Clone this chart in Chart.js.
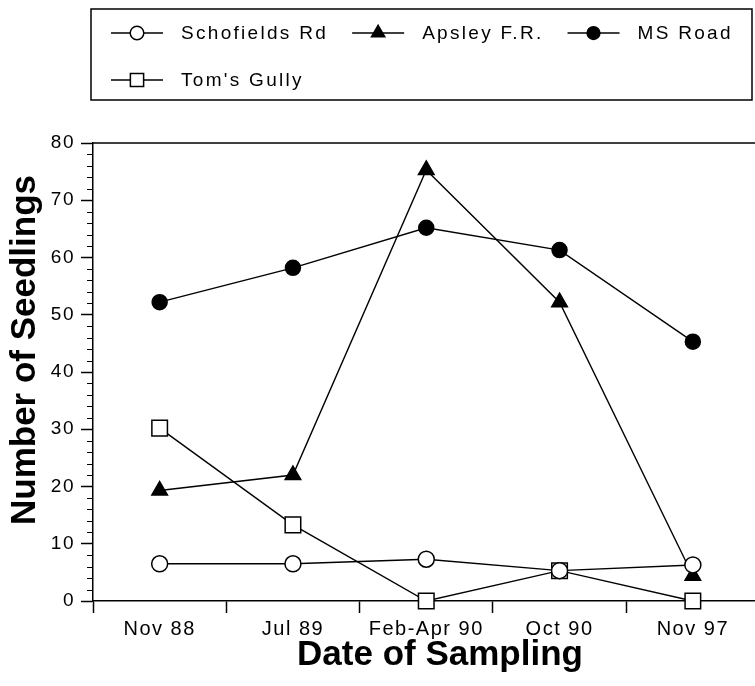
<!DOCTYPE html>
<html>
<head>
<meta charset="utf-8">
<title>Number of Seedlings by Date of Sampling</title>
<script src="https://cdn.jsdelivr.net/npm/chart.js"></script>
<style>
  html, body { margin: 0; padding: 0; background: #fff; overflow: hidden; }
  canvas { display: block; }
</style>
</head>
<body>
<!-- the plot frame runs past the right edge in the original, so the canvas is a bit wider than the page -->
<canvas id="seedlings" width="772" height="686"></canvas>
<script>
// sampling dates (x categories)
var dates = ['Nov 88', 'Jul 89', 'Feb-Apr 90', 'Oct 90', 'Nov 97'];

// seedling counts per site
var schofieldsRd = [6.5, 6.5, 7.3, 5.3, 6.3];
var apsleyFR     = [19.3, 22, 75.3, 52.2, 4.4];
var msRoad       = [52.2, 58.2, 65.2, 61.3, 45.3];
var tomsGully    = [30.2, 13.3, 0, 5.3, 0];

// y axis
var yMin = 0;
var yMax = 80;
var yMajor = 10;
var yMinor = 2;

var FONT = '"Liberation Sans", Arial, Helvetica, sans-serif';

function series(label, data, style, radius, fill) {
    return {
        label: label,
        data: data,
        borderColor: '#000',
        borderWidth: 1.4,
        pointStyle: style,
        pointRadius: radius,
        pointHoverRadius: radius,
        pointBackgroundColor: fill,
        pointBorderColor: '#000',
        pointBorderWidth: 1.5,
        backgroundColor: fill,
        fill: false,
        tension: 0,
        clip: false
    };
}

// letter spacing for the tick labels, titles are drawn later without it
var spacedTicks = {
    id: 'spacedTicks',
    beforeDraw: function (chart) {
        chart.ctx.letterSpacing = '1.5px';
    },
    beforeDatasetsDraw: function (chart) {
        chart.ctx.letterSpacing = '0px';
    }
};

// minor ticks on the y axis + top frame line
var frame = {
    id: 'frame',
    afterDraw: function (chart) {
        var ctx = chart.ctx;
        var area = chart.chartArea;
        var y = chart.scales.y;
        ctx.save();
        ctx.strokeStyle = '#000';
        ctx.lineWidth = 1.5;
        ctx.beginPath();
        ctx.moveTo(area.left, area.top);
        ctx.lineTo(area.right, area.top);
        ctx.stroke();

        ctx.lineWidth = 1.2;
        ctx.beginPath();
        for (var v = yMin; v <= yMax; v += yMinor) {
            if (v % yMajor === 0) continue;
            var py = Math.round(y.getPixelForValue(v)) + 0.5;
            ctx.moveTo(area.left - 6, py);
            ctx.lineTo(area.left, py);
        }
        ctx.stroke();
        ctx.restore();
    }
};

// axis titles, bold
var titles = {
    id: 'titles',
    afterDraw: function (chart) {
        var ctx = chart.ctx;
        ctx.save();
        ctx.letterSpacing = '0px';
        ctx.fillStyle = '#000';
        ctx.font = 'bold 35px ' + FONT;
        ctx.textAlign = 'center';
        ctx.textBaseline = 'alphabetic';
        ctx.fillText('Date of Sampling', 440, 665);

        ctx.translate(35, 350);
        ctx.rotate(-Math.PI / 2);
        ctx.fillText('Number of Seedlings', 0, 0);
        ctx.restore();
    }
};

// boxed legend with line + marker samples, two rows
var boxLegend = {
    id: 'boxLegend',
    afterDraw: function (chart) {
        var ctx = chart.ctx;
        var sets = chart.data.datasets;
        var rows = [[0, 1, 2], [3]];
        var left = 91, top = 9, right = 752, bottom = 100;
        var rowY = [33, 80];
        var symW = 52, gap = 18, itemGap = 24;

        ctx.save();
        ctx.strokeStyle = '#000';
        ctx.lineWidth = 1.5;
        ctx.strokeRect(left, top, right - left, bottom - top);

        ctx.font = '19px ' + FONT;
        ctx.letterSpacing = '2.3px';
        ctx.textBaseline = 'middle';
        ctx.textAlign = 'left';

        rows.forEach(function (row, r) {
            var x = 111;
            var y = rowY[r];
            row.forEach(function (i) {
                var ds = sets[i];
                ctx.strokeStyle = '#000';
                ctx.lineWidth = 1.5;
                ctx.beginPath();
                ctx.moveTo(x, y);
                ctx.lineTo(x + symW, y);
                ctx.stroke();

                ctx.fillStyle = ds.pointBackgroundColor;
                Chart.helpers.drawPoint(ctx, {
                    pointStyle: ds.pointStyle,
                    radius: ds.pointRadius * 0.85,
                    rotation: 0,
                    borderWidth: 1.5
                }, x + symW / 2, y);

                ctx.fillStyle = '#000';
                ctx.fillText(ds.label, x + symW + gap, y + 1);
                x += symW + gap + ctx.measureText(ds.label).width + itemGap;
            });
        });
        ctx.restore();
    }
};

new Chart(document.getElementById('seedlings'), {
    type: 'line',
    data: {
        labels: dates,
        datasets: [
            series('Schofields Rd', schofieldsRd, 'circle', 8, '#fff'),
            series('Apsley F.R.', apsleyFR, 'triangle', 9, '#000'),
            series('MS Road', msRoad, 'circle', 7.5, '#000'),
            series("Tom's Gully", tomsGully, 'rect', 11, '#fff')
        ]
    },
    options: {
        responsive: false,
        devicePixelRatio: 1,
        animation: false,
        layout: { padding: { top: 143, left: 0, right: 0, bottom: 0 } },
        plugins: {
            legend: { display: false },
            tooltip: { enabled: false }
        },
        scales: {
            x: {
                type: 'category',
                offset: true,
                afterFit: function (scale) { scale.height = 85; },
                grid: {
                    offset: true,
                    drawOnChartArea: false,
                    tickLength: 12,
                    tickColor: '#000',
                    tickWidth: 1.5
                },
                border: { color: '#000', width: 1.5 },
                ticks: {
                    color: '#000',
                    padding: 4,
                    maxRotation: 0,
                    autoSkip: false,
                    font: { family: FONT, size: 20 }
                }
            },
            y: {
                min: yMin,
                max: yMax,
                afterFit: function (scale) { scale.width = 93; },
                grid: {
                    drawOnChartArea: false,
                    tickLength: 12,
                    tickColor: '#000',
                    tickWidth: 1.5
                },
                border: { color: '#000', width: 1.5 },
                ticks: {
                    stepSize: yMajor,
                    color: '#000',
                    padding: 6,
                    font: { family: FONT, size: 19 }
                }
            }
        }
    },
    plugins: [spacedTicks, frame, titles, boxLegend]
});
</script>
</body>
</html>
